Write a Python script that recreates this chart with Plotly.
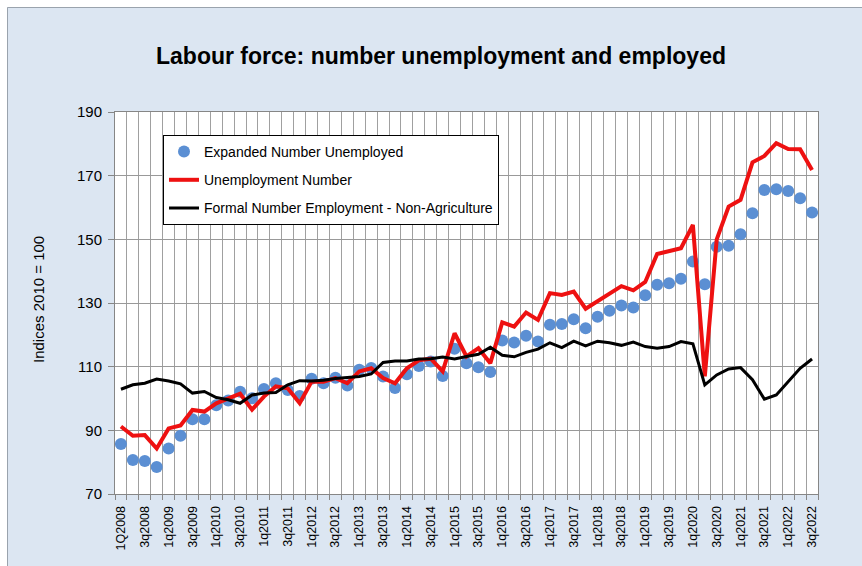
import plotly.graph_objects as go

# ---- data (indices, 2010 = 100), quarterly 1Q2008 .. 3Q2022 ----
expanded_unemployed = [85.7, 80.7, 80.4, 78.5, 84.3, 88.3, 93.5, 93.5, 97.9, 99.4,
                       102.1, 100.1, 103.0, 104.8, 102.7, 100.8, 106.2, 104.8, 106.5, 104.1,
                       109.0, 109.6, 106.9, 103.3, 107.6, 110.2, 111.6, 107.1, 115.6, 111.1,
                       109.8, 108.3, 118.2, 117.6, 119.7, 117.9, 123.2, 123.4, 124.9, 122.1,
                       125.7, 127.6, 129.2, 128.6, 132.4, 135.7, 136.2, 137.6, 143.0, 135.9,
                       147.7, 148.0, 151.6, 158.2, 165.5, 165.7, 165.2, 162.9, 158.4]

unemployment = [91.2, 88.3, 88.5, 84.3, 90.6, 91.5, 96.4, 95.9, 98.5, 100.0,
                101.5, 96.5, 100.6, 103.8, 103.2, 98.5, 105.3, 105.3, 106.4, 104.8,
                108.5, 109.5, 106.4, 104.8, 109.5, 112.0, 112.5, 108.5, 120.5, 113.2,
                115.8, 111.1, 123.9, 122.6, 127.0, 124.7, 133.1, 132.5, 133.6, 128.2,
                130.5, 133.0, 135.3, 134.0, 136.6, 145.4, 146.4, 147.2, 154.5, 107.0,
                150.0, 160.3, 162.4, 174.2, 176.2, 180.2, 178.4, 178.3, 171.8]

formal_employment = [102.9, 104.3, 104.8, 106.1, 105.5, 104.6, 101.7, 102.2, 100.3, 99.6,
                     98.5, 101.1, 101.7, 101.9, 104.3, 105.6, 105.5, 105.7, 106.3, 106.5,
                     106.9, 107.7, 111.3, 111.8, 111.8, 112.4, 112.5, 113.0, 112.4, 113.2,
                     113.9, 116.1, 113.6, 113.1, 114.5, 115.5, 117.5, 116.0, 118.0, 116.5,
                     118.0, 117.5, 116.7, 117.7, 116.3, 115.8, 116.3, 117.9, 117.2, 104.3,
                     107.4, 109.3, 109.7, 105.9, 99.8, 101.1, 105.3, 109.5, 112.4]

tick_labels = ["1Q2008", "3q2008", "1q2009", "3q2009", "1q2010", "3q2010", "1q2011", "3q2011",
               "1q2012", "3q2012", "1q2013", "3q2013", "1q2014", "3q2014", "1q2015", "3q2015",
               "1q2016", "3q2016", "1q2017", "3q2017", "1q2018", "3q2018", "1q2019", "3q2019",
               "1q2020", "3q2020", "1q2021", "3q2021", "1q2022", "3q2022"]

n = len(unemployment)
x = list(range(n))
tick_pos = x[::2]

W, H = 862, 566
ML, MR, MT, MB = 115, 44, 112, 72
PW, PH = W - ML - MR, H - MT - MB

def px_x(p):
    return (p - ML) / PW

def px_y(p):
    return (H - MB - p) / PH

FONT = "Liberation Sans, Arial, sans-serif"
GRID = "#a0a0a0"

fig = go.Figure()
fig.add_trace(go.Scatter(
    x=x, y=expanded_unemployed, mode="markers", name="Expanded Number Unemployed",
    marker=dict(color="#5b8fd3", size=12), legendgroup="a"))
fig.add_trace(go.Scatter(
    x=x, y=unemployment, mode="lines", name="Unemployment Number",
    line=dict(color="#ee1111", width=4), legendgroup="b"))
fig.add_trace(go.Scatter(
    x=x, y=formal_employment, mode="lines", name="Formal Number Employment - Non-Agriculture",
    line=dict(color="#000000", width=3), legendgroup="c"))

fig.update_layout(
    width=W, height=H, autosize=False,
    margin=dict(l=ML, r=MR, t=MT, b=MB),
    paper_bgcolor="#dce6f2", plot_bgcolor="#ffffff",
    font=dict(family=FONT, color="#000000"),
    title=dict(text="<b>Labour force: number unemployment and employed</b>",
               font=dict(size=23, family=FONT, color="#000000"),
               xref="container", x=441 / W, xanchor="center",
               yref="container", y=1 - 56 / H, yanchor="middle"),
    showlegend=True,
    legend=dict(x=px_x(163), y=px_y(135), xanchor="left", yanchor="top",
                bgcolor="#ffffff", bordercolor="#000000", borderwidth=1,
                font=dict(size=14, family=FONT, color="#000000"),
                traceorder="grouped", tracegroupgap=7),
    xaxis=dict(range=[-0.5, n - 0.5], tickmode="array", tickvals=tick_pos,
               ticktext=tick_labels, tickangle=-90, ticks="", showgrid=False,
               ticklabelstandoff=6,
               tickfont=dict(size=12.5, family=FONT, color="#000000"),
               showline=True, linecolor="#868686", linewidth=1, mirror=True,
               zeroline=False,
               minor=dict(tickmode="linear", tick0=-0.5, dtick=1, ticks="outside",
                          ticklen=5, tickcolor="#868686", showgrid=True,
                          gridcolor=GRID, gridwidth=1)),
    yaxis=dict(range=[70, 190], tickmode="linear", tick0=70, dtick=20,
               ticks="outside", ticklen=6, tickcolor="#868686",
               showgrid=True, gridcolor="#999999", gridwidth=1,
               tickfont=dict(size=15, family=FONT, color="#000000"),
               showline=True, linecolor="#868686", linewidth=1, mirror=True,
               zeroline=False, ticklabelstandoff=3),
    annotations=[dict(text="Indices 2010 = 100", textangle=-90, showarrow=False,
                      xref="paper", yref="paper", x=px_x(38), y=px_y(300),
                      xanchor="center", yanchor="middle",
                      font=dict(size=15, family=FONT, color="#000000"))],
    shapes=[
        dict(type="rect", xref="paper", yref="paper", x0=px_x(-5), x1=px_x(W + 5),
             y0=px_y(7), y1=px_y(-5), fillcolor="#ffffff", line=dict(width=0)),
        dict(type="rect", xref="paper", yref="paper", x0=px_x(-5), x1=px_x(7),
             y0=px_y(H + 5), y1=px_y(-5), fillcolor="#ffffff", line=dict(width=0)),
        dict(type="rect", xref="paper", yref="paper", x0=px_x(7.5), x1=px_x(W + 20),
             y0=px_y(H + 20), y1=px_y(7.5), fillcolor="rgba(0,0,0,0)",
             line=dict(color="#9aa3ad", width=1)),
    ],
)

fig.write_html("out.html")
